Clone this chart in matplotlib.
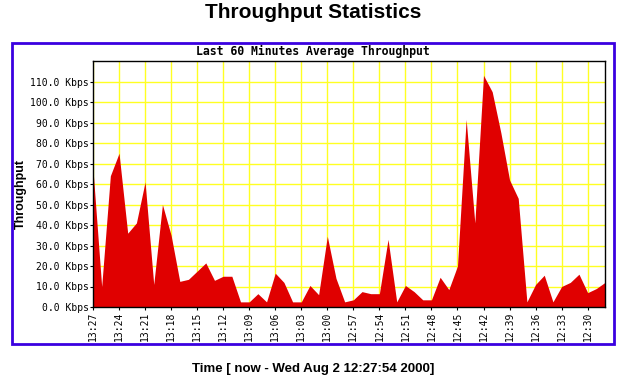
"""
Throughput statistics chart (last 60 minutes average throughput)
"""

import matplotlib
matplotlib.use('Agg')
import matplotlib.pyplot as plt
from matplotlib.patches import Rectangle
import numpy as np

# Minutes back from the left edge, one sample per minute
minutes = list(range(60))

throughput_kbps = [
    67, 10, 64, 75, 36, 41, 61, 11, 50, 35,
    12.5, 13.5, 17.5, 21.5, 13, 15, 15, 2.5, 2.5, 6.5,
    2.5, 16.5, 12, 2.5, 2.5, 10.5, 6, 34.5, 14, 2.5,
    3.5, 7.5, 6.5, 6.5, 33, 2.5, 10.5, 7.5, 3.5, 3.5,
    14.5, 8.5, 20, 91.5, 41, 113, 105, 85, 62, 53,
    2.5, 11, 15.5, 2.5, 10, 12, 16, 7, 9, 12,
]

tick_labels = [
    '13:27', '13:24', '13:21', '13:18', '13:15', '13:12', '13:09',
    '13:06', '13:03', '13:00', '12:57', '12:54', '12:51', '12:48',
    '12:45', '12:42', '12:39', '12:36', '12:33', '12:30',
]
y_ticks = [0, 10, 20, 30, 40, 50, 60, 70, 80, 90, 100, 110]

W, H = 626, 385
fig = plt.figure(figsize=(W / 100, H / 100), dpi=100, facecolor='white')

# blue frame around the plot panel
fig.patches.append(Rectangle((12 / W, 1 - 344 / H), (614 - 12) / W, (344 - 43) / H,
                             transform=fig.transFigure, fill=False,
                             edgecolor='#3a00e0', linewidth=2))

ax = fig.add_axes([93 / W, 1 - 307 / H, (605 - 93) / W, (307 - 61) / H])

x = np.array(minutes)
ax.fill_between(x, throughput_kbps, 0, color='#e00000', linewidth=0)

ax.set_xlim(0, 59)
ax.set_ylim(0, 120)

ax.set_xticks(x[::3])
ax.set_xticklabels(tick_labels, rotation=90, family='DejaVu Sans Mono', fontsize=7)
ax.set_yticks(y_ticks)
ax.set_yticklabels([f'{v:.1f} Kbps' for v in y_ticks], family='DejaVu Sans Mono', fontsize=7)
ax.tick_params(length=2, width=0.8, pad=1)

ax.grid(color='#ffff22', linewidth=1)
ax.set_axisbelow(True)
for s in ax.spines.values():
    s.set_color('black')
    s.set_linewidth(1)

ax.set_ylabel('Throughput', family='Liberation Sans', fontweight='bold', fontsize=9)
# label sits a little below the axes centre in the original
ax.yaxis.set_label_coords((27 - 93) / (605 - 93), (307 - 194) / (307 - 61))

fig.text(313 / W, 1 - 13 / H, 'Throughput Statistics', ha='center', va='center',
         family='Liberation Sans', fontweight='bold', fontsize=15)
fig.text(313 / W, 1 - 51 / H, 'Last 60 Minutes Average Throughput', ha='center', va='center',
         family='DejaVu Sans Mono', fontweight='bold', fontsize=8.3)
fig.text(313 / W, 1 - 369 / H, 'Time [ now - Wed Aug 2 12:27:54 2000]', ha='center', va='center',
         family='Liberation Sans', fontweight='bold', fontsize=9.5)

fig.savefig('out.png', dpi=100, facecolor='white')
plt.close(fig)
